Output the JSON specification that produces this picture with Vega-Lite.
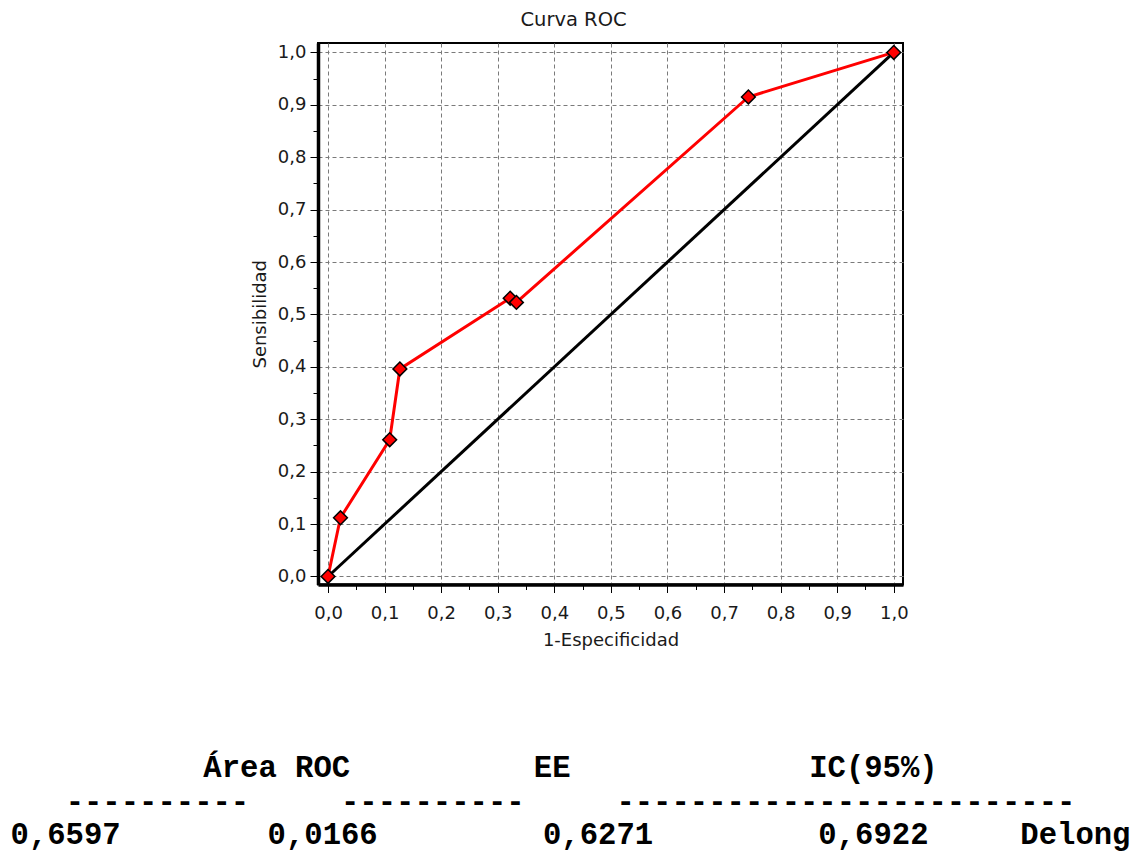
{
  "$schema": "https://vega.github.io/schema/vega-lite/v6.json",
  "background": "white",
  "padding": {"left": 10, "right": 10, "top": 8, "bottom": 3},
  "config": {"view": {"stroke": "#000", "strokeWidth": 2}, "font": "DejaVu Sans"},
  "datasets": {
    "roc": [
      {"fpr": 0, "tpr": 0},
      {"fpr": 0.022, "tpr": 0.112},
      {"fpr": 0.109, "tpr": 0.261},
      {"fpr": 0.127, "tpr": 0.396},
      {"fpr": 0.322, "tpr": 0.531},
      {"fpr": 0.333, "tpr": 0.523},
      {"fpr": 0.743, "tpr": 0.915},
      {"fpr": 1, "tpr": 1}
    ],
    "diag": [{"fpr": 0, "tpr": 0}, {"fpr": 1, "tpr": 1}],
    "texto": [
      {"row": 1, "text": "\u00a0\u00a0\u00a0\u00a0\u00a0\u00a0\u00a0\u00a0\u00a0\u00a0Área ROC\u00a0\u00a0\u00a0\u00a0\u00a0\u00a0\u00a0\u00a0\u00a0\u00a0EE\u00a0\u00a0\u00a0\u00a0\u00a0\u00a0\u00a0\u00a0\u00a0\u00a0\u00a0\u00a0\u00a0IC(95%)\u00a0\u00a0\u00a0\u00a0\u00a0\u00a0\u00a0\u00a0\u00a0\u00a0"},
      {"row": 2, "text": "\u00a0\u00a0\u00a0----------\u00a0\u00a0\u00a0\u00a0\u00a0----------\u00a0\u00a0\u00a0\u00a0\u00a0-------------------------\u00a0\u00a0\u00a0"},
      {"row": 3, "text": "0,6597\u00a0\u00a0\u00a0\u00a0\u00a0\u00a0\u00a0\u00a00,0166\u00a0\u00a0\u00a0\u00a0\u00a0\u00a0\u00a0\u00a0\u00a00,6271\u00a0\u00a0\u00a0\u00a0\u00a0\u00a0\u00a0\u00a0\u00a00,6922\u00a0\u00a0\u00a0\u00a0\u00a0Delong"}
    ]
  },
  "spacing": 102,
  "vconcat": [
    {
      "width": 585,
      "height": 541.5,
      "title": {"text": "Curva ROC", "font": "DejaVu Sans", "fontSize": 19.5, "fontWeight": "normal", "color": "#1a1a1a", "anchor": "middle", "dx": -37, "offset": -2.5, "baseline": "alphabetic"},
      "encoding": {
        "x": {
          "field": "fpr", "type": "quantitative",
          "scale": {"domain": [-0.0177, 1.0163], "nice": false, "zero": false},
          "axis": {
            "title": "1-Especificidad",
            "values": [0, 0.05, 0.1, 0.15, 0.2, 0.25, 0.3, 0.35, 0.4, 0.45, 0.5, 0.55, 0.6, 0.65, 0.7, 0.75, 0.8, 0.85, 0.9, 0.95, 1],
            "labelExpr": "round(datum.value*20) % 2 == 0 ? replace(format(datum.value, '.1f'), '.', ',') : ''",
            "labelFont": "DejaVu Sans", "labelFontSize": 18, "labelColor": "#1a1a1a", "labelPadding": 12, "labelFlush": false, "labelOverlap": false,
            "titleFont": "DejaVu Sans", "titleFontSize": 18, "titleFontWeight": "normal", "titleColor": "#1a1a1a", "titlePadding": 9,
            "domainColor": "#000", "domainWidth": 3.5,
            "tickColor": "#000", "tickWidth": 1,
            "tickSize": {"condition": {"test": "round(datum.value*20) % 2 == 0", "value": 8}, "value": 5},
            "grid": true, "gridColor": "#7a7a7a", "gridDash": [4, 3], "gridWidth": 1,
            "gridOpacity": {"condition": {"test": "round(datum.value*20) % 2 == 0", "value": 1}, "value": 0}
          }
        },
        "y": {
          "field": "tpr", "type": "quantitative",
          "scale": {"domain": [-0.0153, 1.018], "nice": false, "zero": false},
          "axis": {
            "title": "Sensibilidad",
            "values": [0, 0.05, 0.1, 0.15, 0.2, 0.25, 0.3, 0.35, 0.4, 0.45, 0.5, 0.55, 0.6, 0.65, 0.7, 0.75, 0.8, 0.85, 0.9, 0.95, 1],
            "labelExpr": "round(datum.value*20) % 2 == 0 ? replace(format(datum.value, '.1f'), '.', ',') : ''",
            "labelFont": "DejaVu Sans", "labelFontSize": 18, "labelColor": "#1a1a1a", "labelPadding": 4, "labelFlush": false, "labelOverlap": false,
            "titleFont": "DejaVu Sans", "titleFontSize": 18, "titleFontWeight": "normal", "titleColor": "#1a1a1a", "titlePadding": 8,
            "domainColor": "#000", "domainWidth": 3.5,
            "tickColor": "#000", "tickWidth": 1,
            "tickSize": {"condition": {"test": "round(datum.value*20) % 2 == 0", "value": 8}, "value": 5},
            "grid": true, "gridColor": "#7a7a7a", "gridDash": [4, 3], "gridWidth": 1,
            "gridOpacity": {"condition": {"test": "round(datum.value*20) % 2 == 0", "value": 1}, "value": 0}
          }
        }
      },
      "layer": [
        {"data": {"name": "diag"}, "mark": {"type": "line", "color": "#000", "strokeWidth": 3}},
        {"data": {"name": "roc"}, "mark": {"type": "line", "color": "#ff0000", "strokeWidth": 3}},
        {"data": {"name": "roc"}, "mark": {"type": "point", "shape": "diamond", "filled": true, "fill": "#ff0000", "stroke": "#000", "strokeWidth": 1.5, "size": 190, "opacity": 1}}
      ]
    },
    {
      "width": 505,
      "height": 67.2,
      "view": {"stroke": null},
      "data": {"name": "texto"},
      "mark": {"type": "text", "font": "Liberation Mono", "fontWeight": "bold", "fontSize": 30.6, "align": "center", "baseline": "top", "color": "#000"},
      "encoding": {
        "y": {"field": "row", "type": "quantitative", "scale": {"domain": [1, 3], "reverse": true, "nice": false, "zero": false}, "axis": null},
        "text": {"field": "text", "type": "nominal"}
      }
    }
  ]
}
